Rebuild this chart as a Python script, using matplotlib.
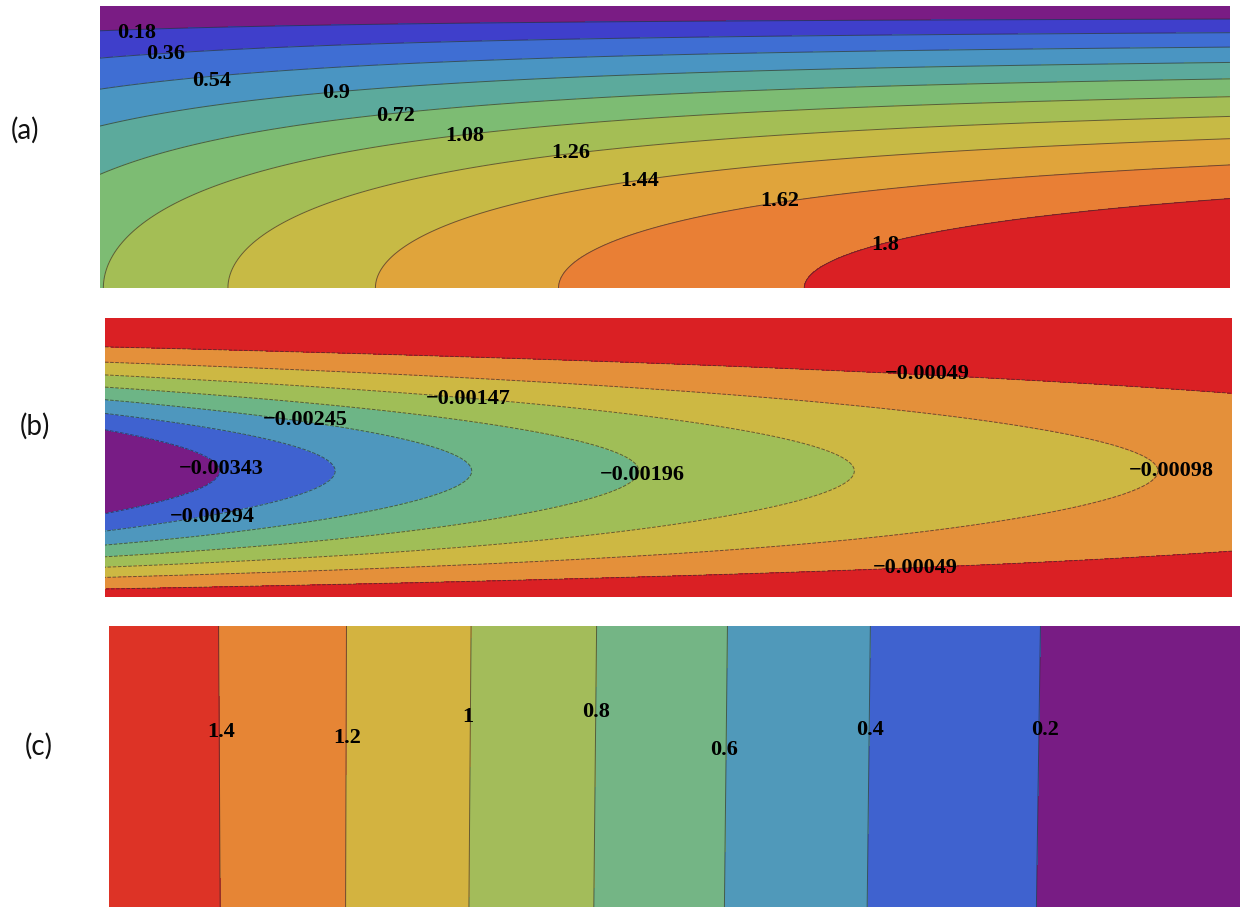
import numpy as np
import matplotlib
matplotlib.use("Agg")
import matplotlib.pyplot as plt

# ---------------- panel (a) ----------------
LEVELS_A = np.array([0.18, 0.36, 0.54, 0.72, 0.9, 1.08, 1.26, 1.44, 1.62, 1.8])
# depth below the top edge (fraction of panel height) where 0.18 ... 0.9 cross the left edge
LEFT_DEPTH_A = np.array([0.089, 0.186, 0.295, 0.427, 0.599])
LEFT_BOTTOM_A = 1.07            # value read in the bottom-left corner
# x (fraction of width) where 1.08 ... 1.8 reach the bottom edge
BOTTOM_X_A = np.array([0.004, 0.114, 0.245, 0.409, 0.626])
# depth where every level crosses the right edge
RIGHT_DEPTH_A = np.array([0.044, 0.098, 0.148, 0.200, 0.260, 0.323, 0.391, 0.469, 0.563, 0.688])
LABELS_A = ["0.18", "0.36", "0.54", "0.9", "0.72", "1.08", "1.26", "1.44", "1.62", "1.8"]
LABEL_POS_A = [(0.032, 0.903), (0.058, 0.830), (0.099, 0.735), (0.209, 0.690), (0.262, 0.611),
               (0.323, 0.539), (0.417, 0.478), (0.478, 0.380), (0.602, 0.310), (0.695, 0.152)]

# ---------------- panel (b) ----------------
LEVELS_B = np.array([-0.00343, -0.00294, -0.00245, -0.00196, -0.00147, -0.00098, -0.00049])
# x where the closed contours -0.00343 ... -0.00098 turn round on the centre line
TIP_X_B = np.array([0.102, 0.206, 0.3265, 0.4685, 0.6664, 0.9352])
# distance of each contour from the centre line at the left edge (fraction of panel height)
LEFT_UP_B = np.array([0.149, 0.204, 0.254, 0.298, 0.346, 0.391, 0.443])
LEFT_DOWN_B = np.array([0.157, 0.211, 0.259, 0.307, 0.348, 0.384, 0.420])
CENTER_Y_B = 0.4526
LABELS_B = ["\u22120.00343", "\u22120.00294", "\u22120.00245", "\u22120.00147",
            "\u22120.00196", "\u22120.00098", "\u22120.00049", "\u22120.00049"]
LABEL_POS_B = [(0.103, 0.459), (0.095, 0.289), (0.178, 0.635), (0.322, 0.710),
               (0.477, 0.438), (0.946, 0.453), (0.730, 0.800), (0.719, 0.104)]

# ---------------- panel (c) ----------------
LEVELS_C = np.array([1.4, 1.2, 1.0, 0.8, 0.6, 0.4, 0.2])
TOP_X_C = np.array([0.0961, 0.2116, 0.3201, 0.4297, 0.5462, 0.6751, 0.8227])
BOTTOM_X_C = np.array([0.0975, 0.2107, 0.3183, 0.4273, 0.5433, 0.6724, 0.8191])
LABELS_C = ["1.4", "1.2", "1", "0.8", "0.6", "0.4", "0.2"]
LABEL_POS_C = [(0.099, 0.624), (0.211, 0.600), (0.317, 0.677), (0.431, 0.693),
               (0.544, 0.559), (0.673, 0.630), (0.828, 0.630)]

COLORS_A = ["#7A1C84", "#3F3FCB", "#3F6ED3", "#4A95C2", "#5CAA9C", "#7DBC73",
            "#A4BE55", "#C7BA45", "#E0A43B", "#E97F35", "#DA2024"]
COLORS_B = ["#781C85", "#3F62D0", "#4E97BE", "#6DB586", "#A0BE57", "#CDB843",
            "#E4903A", "#DA2024"]
COLORS_C = ["#781C84", "#3F62CF", "#5099BA", "#74B585", "#A3BC5A", "#D3B340",
            "#E68535", "#DD3326"]

x = np.linspace(0, 1, 700)
y = np.linspace(0, 1, 350)
X, Y = np.meshgrid(x, y)

# (a): amplitude along x times a profile across the depth, both fitted to the read crossings
u_left = (1 - LEFT_DEPTH_A) ** 2
prof = np.polyfit(np.r_[u_left, 0.0, 1.0], np.r_[LEVELS_A[:5] / LEFT_BOTTOM_A, 1.0, 0.0], 1)
a_right = np.mean(LEVELS_A / np.polyval(prof, (1 - RIGHT_DEPTH_A) ** 2))
amp = np.polyfit(np.r_[BOTTOM_X_A, 1.0], np.r_[LEVELS_A[5:], a_right], 3)
F_A = np.polyval(amp, X) * np.polyval(prof, Y ** 2)

# (b): exponential decay of the centre value along x, smooth cross profile
# g(s) = exp(-s^2 * poly(s^2)) fitted on each side of the centre line
slope, icpt = np.polyfit(TIP_X_B, np.log(-LEVELS_B[:6]), 1)
b0 = np.exp(icpt)
log_g = -np.log(-LEVELS_B / b0)
fit_up = np.polyfit(LEFT_UP_B ** 2, log_g / LEFT_UP_B ** 2, 2)
fit_down = np.polyfit(LEFT_DOWN_B ** 2, log_g / LEFT_DOWN_B ** 2, 2)
u = (Y - CENTER_Y_B) ** 2
expo = u * np.where(Y > CENTER_Y_B, np.polyval(fit_up, u), np.polyval(fit_down, u))
F_B = -np.exp(icpt + slope * X) * np.exp(-expo)

# (c): nearly vertical bands, blended between top and bottom edge crossings
f_top = np.polyfit(TOP_X_C, LEVELS_C, 3)
f_bot = np.polyfit(BOTTOM_X_C, LEVELS_C, 3)
F_C = np.polyval(f_bot, X) * (1 - Y) + np.polyval(f_top, X) * Y

fig = plt.figure(figsize=(12.42, 9.08), dpi=100)

panels = [
    ([0.0805, 0.6828, 0.9098, 0.3106], F_A, LEVELS_A, COLORS_A, LABELS_A, LABEL_POS_A, "(a)", (0.020, 0.856)),
    ([0.0845, 0.3420, 0.9074, 0.3078], F_B, LEVELS_B, COLORS_B, LABELS_B, LABEL_POS_B, "(b)", (0.028, 0.530)),
    ([0.0878, 0.0011, 0.9106, 0.3095], F_C, np.sort(LEVELS_C), COLORS_C, LABELS_C, LABEL_POS_C, "(c)", (0.031, 0.178)),
]

for rect, F, levels, colors, labels, lpos, tag, tpos in panels:
    ax = fig.add_axes(rect)
    lo, hi = F.min(), F.max()
    span = hi - lo
    bounds = np.r_[min(lo, levels[0]) - span, levels, max(hi, levels[-1]) + span]
    ax.contourf(X, Y, F, levels=bounds, colors=colors)
    ax.contour(X, Y, F, levels=levels, colors="#2b2b2b", linewidths=0.7, alpha=0.65)
    for txt, (px, py) in zip(labels, lpos):
        ax.text(px, py, txt, ha="center", va="center", fontsize=16,
                fontweight="bold", family="Liberation Serif", color="black")
    ax.set_xlim(0, 1)
    ax.set_ylim(0, 1)
    ax.axis("off")
    fig.text(tpos[0], tpos[1], tag, ha="center", va="center", fontsize=20,
             family="Lato", color="#111111")

fig.savefig("out.png", dpi=100)
